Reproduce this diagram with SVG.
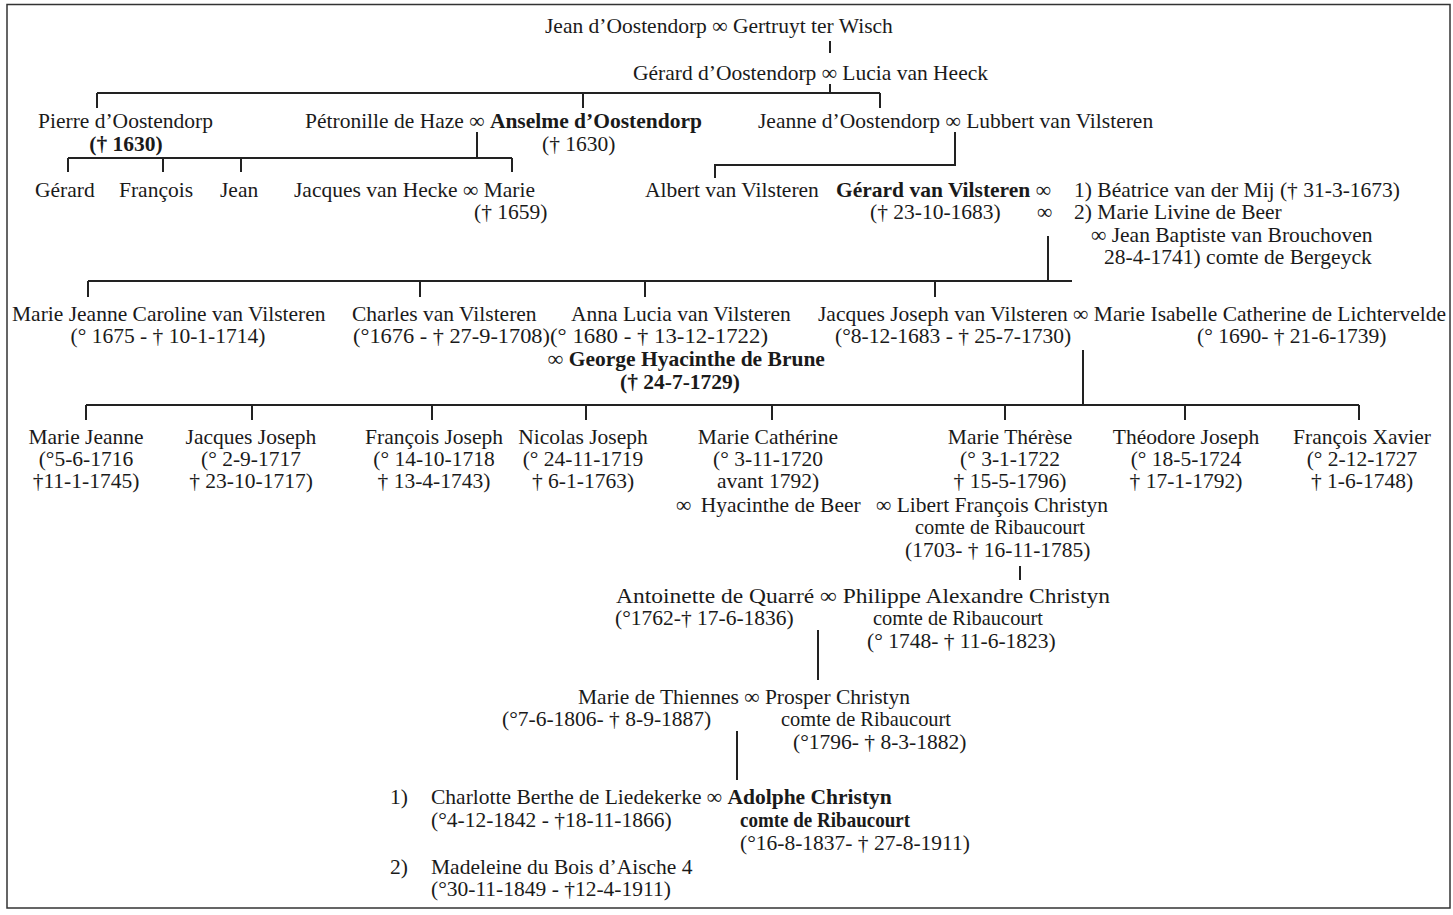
<svg xmlns="http://www.w3.org/2000/svg" width="1453" height="915" viewBox="0 0 1453 915">
<style>
text { font-family: "Liberation Serif", "Times New Roman", serif; font-size: 21.5px; fill: #1a1a1a; }
.b { font-weight: bold; }
.m { text-anchor: middle; }
.ln { stroke: #222; stroke-width: 2; fill: none; }
</style>
<rect x="0" y="0" width="1453" height="915" fill="#fff"/>
<rect x="7" y="4.5" width="1443" height="903.5" fill="none" stroke="#333" stroke-width="1.5"/>
<g id="connectors" class="ln">
<path d="M830 41V53"/>
<path d="M830 84V93M97 93H880M97 93V108M583 93V108M880 93V108"/>
<path d="M477 132V158M68 158H512M68 158V172M163 158V172M241 158V172M512 158V172"/>
<path d="M955 132V165H715V178"/>
<path d="M1048 236V281M88 281H1072M88 281V297M420 281V297M645 281V297M935 281V297"/>
<path d="M1083 350V405M86 405H1359M86 405V420M252 405V420M432 405V420M586 405V420M772 405V420M1005 405V420M1185 405V420M1359 405V420"/>
<path d="M1020 566V580"/>
<path d="M818 630V680"/>
<path d="M737 731V780"/>
</g>
<g id="n-jean-gertruyt"><text x="545" y="33">Jean d’Oostendorp ∞ Gertruyt ter Wisch</text></g>
<g id="n-gerard-lucia"><text x="633" y="80">Gérard d’Oostendorp ∞ Lucia van Heeck</text></g>
<g id="n-pierre"><text x="38" y="128">Pierre d’Oostendorp</text><text class="b m" x="126" y="151">(† 1630)</text></g>
<g id="n-anselme"><text x="305" y="128">Pétronille de Haze ∞ <tspan class="b">Anselme d’Oostendorp</tspan></text><text x="542" y="151">(† 1630)</text></g>
<g id="n-jeanne"><text x="758" y="128">Jeanne d’Oostendorp ∞ Lubbert van Vilsteren</text></g>
<g id="n-gerard-c"><text x="35" y="197">Gérard</text></g>
<g id="n-francois-c"><text x="119" y="197">François</text></g>
<g id="n-jean-c"><text x="220" y="197">Jean</text></g>
<g id="n-marie-c"><text x="294" y="197">Jacques van Hecke ∞ Marie</text><text x="474" y="219">(† 1659)</text></g>
<g id="n-albert"><text x="645" y="197">Albert van Vilsteren</text></g>
<g id="n-gerard-v">
<text x="836" y="197"><tspan class="b">Gérard van Vilsteren</tspan> ∞</text>
<text x="1074" y="197">1) Béatrice van der Mij († 31-3-1673)</text>
<text x="870" y="219">(† 23-10-1683)</text>
<text x="1037" y="219">∞</text>
<text x="1074" y="219">2) Marie Livine de Beer</text>
<text x="1091" y="242">∞ Jean Baptiste van Brouchoven</text>
<text x="1104" y="264">28-4-1741) comte de Bergeyck</text>
</g>
<g id="n-marie-jeanne-caroline"><text x="12" y="321">Marie Jeanne Caroline van Vilsteren</text><text class="m" x="168" y="343">(° 1675 - † 10-1-1714)</text></g>
<g id="n-charles"><text x="352" y="321">Charles van Vilsteren</text><text x="353" y="343" textLength="197" lengthAdjust="spacingAndGlyphs">(°1676 - † 27-9-1708)</text></g>
<g id="n-anna-lucia"><text x="571" y="321">Anna Lucia van Vilsteren</text><text x="550" y="343" textLength="218" lengthAdjust="spacingAndGlyphs">(° 1680 - † 13-12-1722)</text><text class="b" x="548" y="366">∞ George Hyacinthe de Brune</text><text class="b" x="620" y="389">(† 24-7-1729)</text></g>
<g id="n-jacques-joseph"><text x="818" y="321">Jacques Joseph van Vilsteren ∞ Marie Isabelle Catherine de Lichtervelde</text><text x="835" y="343">(°8-12-1683 - † 25-7-1730)</text><text x="1197" y="343">(° 1690- † 21-6-1739)</text></g>
<g id="n-marie-jeanne"><text class="m" x="86" y="444">Marie Jeanne</text><text class="m" x="86" y="466">(°5-6-1716</text><text class="m" x="86" y="488">†11-1-1745)</text></g>
<g id="n-jacques-joseph-2"><text class="m" x="251" y="444">Jacques Joseph</text><text class="m" x="251" y="466">(° 2-9-1717</text><text class="m" x="251" y="488">† 23-10-1717)</text></g>
<g id="n-francois-joseph"><text class="m" x="434" y="444">François Joseph</text><text class="m" x="434" y="466">(° 14-10-1718</text><text class="m" x="434" y="488">† 13-4-1743)</text></g>
<g id="n-nicolas-joseph"><text class="m" x="583" y="444">Nicolas Joseph</text><text class="m" x="583" y="466">(° 24-11-1719</text><text class="m" x="583" y="488">† 6-1-1763)</text></g>
<g id="n-marie-catherine"><text class="m" x="768" y="444">Marie Cathérine</text><text class="m" x="768" y="466">(° 3-11-1720</text><text class="m" x="768" y="488">avant 1792)</text><text x="676" y="512">∞ <tspan dx="4">Hyacinthe de Beer</tspan></text></g>
<g id="n-marie-therese"><text class="m" x="1010" y="444">Marie Thérèse</text><text class="m" x="1010" y="466">(° 3-1-1722</text><text class="m" x="1010" y="488">† 15-5-1796)</text><text x="876" y="512">∞ Libert François Christyn</text><text x="915" y="534" textLength="170" lengthAdjust="spacingAndGlyphs">comte de Ribaucourt</text><text x="905" y="557">(1703- † 16-11-1785)</text></g>
<g id="n-theodore-joseph"><text class="m" x="1186" y="444">Théodore Joseph</text><text class="m" x="1186" y="466">(° 18-5-1724</text><text class="m" x="1186" y="488">† 17-1-1792)</text></g>
<g id="n-francois-xavier"><text class="m" x="1362" y="444">François Xavier</text><text class="m" x="1362" y="466">(° 2-12-1727</text><text class="m" x="1362" y="488">† 1-6-1748)</text></g>
<g id="n-philippe"><text x="616" y="603" textLength="494" lengthAdjust="spacingAndGlyphs">Antoinette de Quarré ∞ Philippe Alexandre Christyn</text><text x="615" y="625">(°1762-† 17-6-1836)</text><text x="873" y="625" textLength="170" lengthAdjust="spacingAndGlyphs">comte de Ribaucourt</text><text x="867" y="648">(° 1748- † 11-6-1823)</text></g>
<g id="n-prosper"><text x="578" y="704">Marie de Thiennes ∞ Prosper Christyn</text><text x="502" y="726">(°7-6-1806- † 8-9-1887)</text><text x="781" y="726" textLength="170" lengthAdjust="spacingAndGlyphs">comte de Ribaucourt</text><text x="793" y="749">(°1796- † 8-3-1882)</text></g>
<g id="n-adolphe">
<text x="390" y="804">1)</text>
<text x="431" y="804">Charlotte Berthe de Liedekerke ∞ <tspan class="b">Adolphe Christyn</tspan></text>
<text x="431" y="827">(°4-12-1842 - †18-11-1866)</text>
<text class="b" x="740" y="827" textLength="170" lengthAdjust="spacingAndGlyphs">comte de Ribaucourt</text>
<text x="740" y="850">(°16-8-1837- † 27-8-1911)</text>
<text x="390" y="874">2)</text>
<text x="431" y="874">Madeleine du Bois d’Aische 4</text>
<text x="431" y="896">(°30-11-1849 - †12-4-1911)</text>
</g>
</svg>
